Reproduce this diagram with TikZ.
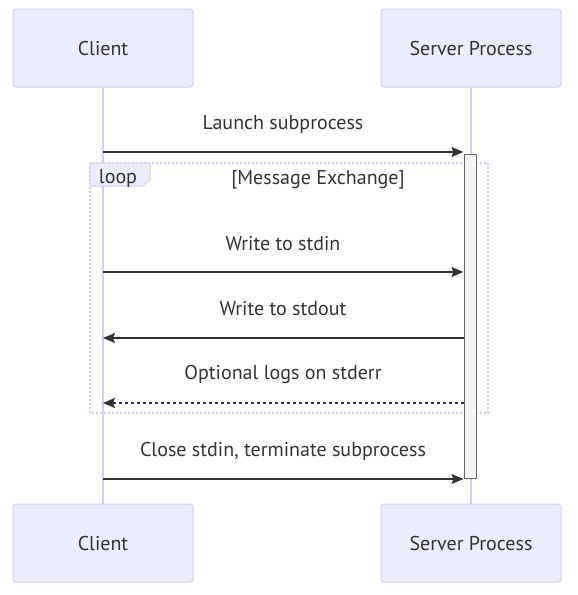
\documentclass[tikz,border=0pt]{standalone}
\usepackage{fontspec}
\setmainfont{PT Sans}
\usetikzlibrary{positioning,arrows.meta}
\definecolor{actorfill}{HTML}{ECECFF}
\definecolor{actorline}{HTML}{D6CCF3}
\definecolor{txt}{HTML}{333333}
\definecolor{barfill}{HTML}{F4F4F4}
\definecolor{barline}{HTML}{666666}
\begin{document}
\begin{tikzpicture}[x=1pt,y=-1pt,node distance=187pt,every node/.style={inner sep=0pt,font=\fontsize{20}{24}\selectfont}]
\tikzstyle{actor}=[draw=actorline,line width=1pt,fill=actorfill,rounded corners=3pt,minimum width=180pt,minimum height=78pt,text=txt]
\tikzstyle{life}=[draw=actorline,line width=1.6pt]
\tikzstyle{msg}=[draw=txt,line width=1.5pt,-{Stealth[length=12pt,width=10pt,inset=2pt]}]
\tikzstyle{lbl}=[text=txt]
\useasboundingbox (0,0) rectangle (578,595);

\node[actor](c0) at (103,48){Client};
\node[actor,right=of c0](s0){Server Process};
\node[actor,below=416pt of c0](c1){Client};
\node[actor,below=416pt of s0](s1){Server Process};

\draw[life] (c0) -- (c1);
\draw[life] (s0) -- (s1);

% loop frame
\draw[actorline,line width=2pt,dash pattern=on 2pt off 2pt] (90,163) rectangle (488,413);
\filldraw[draw=actorline,fill=actorfill,line width=1pt] (90,163) -- (150,163) -- (150,179) -- (143,186) -- (90,186) -- cycle;
\node[lbl](lp) at (118,178){loop};
\node[lbl](lt) at (318,180){[Message Exchange]};

% activation
\node[draw=barline,fill=barfill,line width=1pt,minimum width=12pt,minimum height=324pt](act) at (470,316){};

\coordinate (m1) at (103,152);
\coordinate (m2) at (103,272);
\coordinate (m3) at (103,338);
\coordinate (m4) at (103,403);
\coordinate (m5) at (103,479);

\node[lbl](t1) at (283,124){Launch subprocess};
\draw[msg] (m1) -- (act.west |- m1);
\node[lbl](t2) at (283,244){Write to stdin};
\draw[msg] (m2) -- (act.west |- m2);
\node[lbl](t3) at (283,309){Write to stdout};
\draw[msg] (act.west |- m3) -- (m3);
\node[lbl](t4) at (283,374){Optional logs on stderr};
\draw[msg,dash pattern=on 3pt off 3pt] (act.west |- m4) -- (m4);
\node[lbl](t5) at (283,451){Close stdin, terminate subprocess};
\draw[msg] (m5) -- (act.west |- m5);
\end{tikzpicture}
\end{document}
